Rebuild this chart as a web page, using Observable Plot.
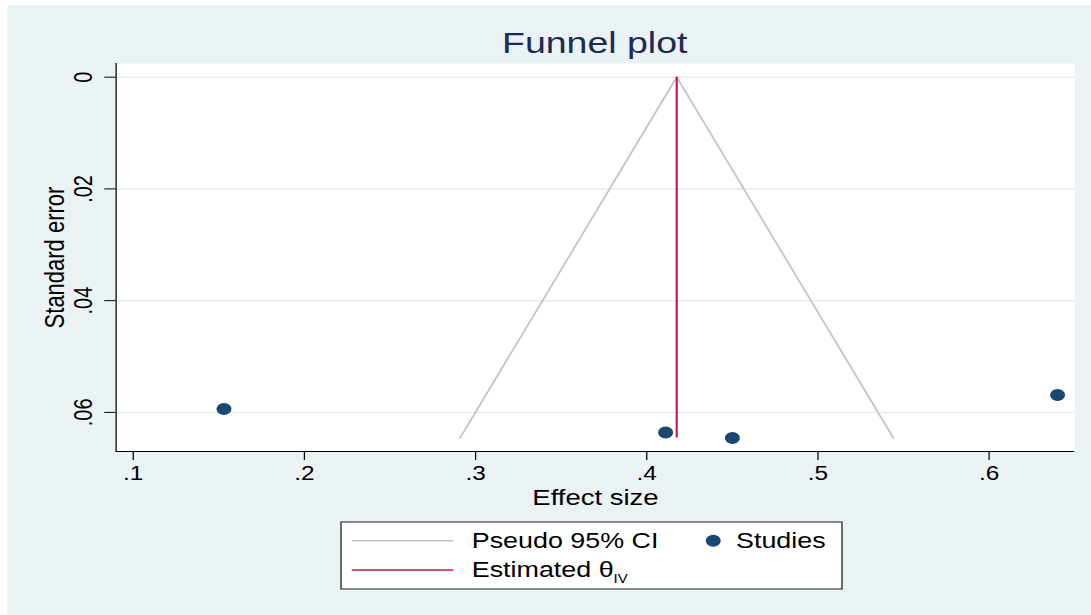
<!DOCTYPE html>
<html>
<head>
<meta charset="utf-8">
<script src="https://cdn.jsdelivr.net/npm/d3@7"></script>
<script src="https://cdn.jsdelivr.net/npm/@observablehq/plot@0.6"></script>
<style>
  html, body { margin: 0; padding: 0; background: #ffffff; overflow: hidden; }
  #wrap {
    position: relative; width: 873px; height: 615px;
    transform: scaleX(1.25); transform-origin: 0 0;
    font-family: "Liberation Sans", Arial, sans-serif;
  }
  #bg { position: absolute; left: 6.4px; top: 5px; right: 0; bottom: 0; background: #eaf2f3; }
  #chart, #overlay { position: absolute; left: 0; top: 0; }
</style>
</head>
<body>
<div id="wrap">
  <div id="bg"></div>
  <div id="chart"></div>
  <svg id="overlay" width="873" height="615" font-family="Liberation Sans, Arial, sans-serif">
    <text x="475.8" y="53.3" text-anchor="middle" font-size="30" fill="#1c2c54">Funnel plot</text>
    <rect x="272.8" y="522" width="400.8" height="67" fill="#ffffff" stroke="#1a1a1a" stroke-width="1"></rect>
    <line x1="281.4" x2="362.6" y1="540.7" y2="540.7" stroke="#c3c3c3" stroke-width="1.5"></line>
    <line x1="281.4" x2="362.6" y1="570" y2="570" stroke="#cf1441" stroke-width="1.7"></line>
    <text x="377.4" y="548.3" font-size="21.5" fill="#000">Pseudo 95% CI</text>
    <text x="377.4" y="577.3" font-size="21.5" fill="#000">Estimated θ<tspan font-size="12" dy="6">IV</tspan></text>
    <circle cx="570.6" cy="540.7" r="6" fill="#1a476f"></circle>
    <text x="588.8" y="548.3" font-size="21.5" fill="#000">Studies</text>
  </svg>
</div>
<script>
// Study estimates: effect size and its standard error
const studyEffect = [0.153, 0.411, 0.450, 0.640];
const studySE = [0.0594, 0.0636, 0.0646, 0.0569];

// Pooled inverse-variance estimate
const thetaIV = 0.4175;

// Axis ticks and scale domains
const xTicks = [0.1, 0.2, 0.3, 0.4, 0.5, 0.6];
const yTicks = [0, 0.02, 0.04, 0.06];
const xDomain = [0.0900, 0.6501];
const yDomain = [-0.00245, 0.0670];

const studies = studyEffect.map((es, i) => ({es, se: studySE[i]}));
const seMax = d3.max(studySE);
const z = 1.96;

// Pseudo 95% confidence limits: theta ± 1.96·SE, from SE = 0 to the largest SE
const funnel = [
  {es: thetaIV - z * seMax, se: seMax},
  {es: thetaIV, se: 0},
  {es: thetaIV + z * seMax, se: seMax}
];

// Stata-style labels: no leading zero
const fmt = d => d === 0 ? "0" : d3.format(".2~f")(d).replace(/^0/, "");

const chart = Plot.plot({
  width: 873,
  height: 615,
  marginTop: 63,
  marginBottom: 164,
  marginLeft: 92.4,
  marginRight: 13.6,
  x: {domain: xDomain},
  y: {domain: yDomain, reverse: true},
  style: {
    background: "transparent",
    fontFamily: "Liberation Sans, Arial, sans-serif",
    color: "#000",
    overflow: "visible"
  },
  marks: [
    Plot.frame({fill: "#ffffff", stroke: null}),
    Plot.ruleY(yTicks, {stroke: "#e4edef", strokeWidth: 1.5}),
    Plot.line(funnel, {x: "es", y: "se", stroke: "#c3c3c3", strokeWidth: 1.5}),
    Plot.ruleX([thetaIV], {y1: 0, y2: seMax, stroke: "#cf1441", strokeWidth: 1.7}),
    Plot.dot(studies, {x: "es", y: "se", r: 6, fill: "#1a476f", stroke: null}),
    Plot.ruleX([xDomain[0]], {stroke: "#000", strokeWidth: 1}),
    Plot.ruleY([yDomain[1]], {stroke: "#000", strokeWidth: 1}),
    Plot.axisX(xTicks, {tickSize: 9, tickPadding: 6, fontSize: 19.5, tickFormat: fmt, label: null}),
    Plot.axisY(yTicks, {tickSize: 9, tickPadding: 10, tickRotate: -90, fontSize: 20, tickFormat: fmt, label: null}),
    Plot.text(["Effect size"], {text: d => d, frameAnchor: "bottom", dy: 38, lineAnchor: "top", fontSize: 22}),
    Plot.text(["Standard error"], {text: d => d, frameAnchor: "left", dx: -41.8, rotate: -90, textAnchor: "middle", lineAnchor: "bottom", fontSize: 22})
  ]
});

document.getElementById("chart").appendChild(chart);
</script>
</body>
</html>
